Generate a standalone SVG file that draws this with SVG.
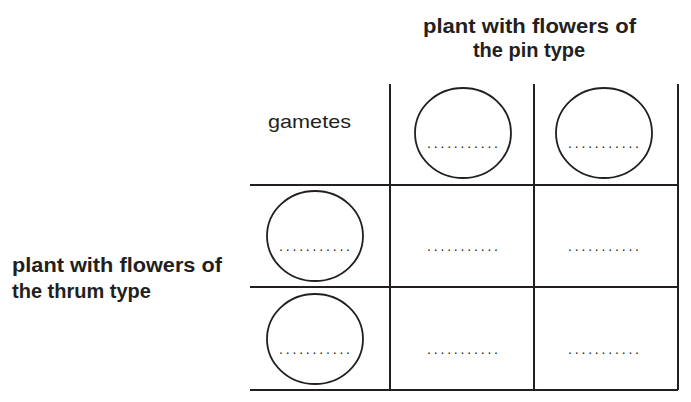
<svg xmlns="http://www.w3.org/2000/svg" width="691" height="402" viewBox="0 0 691 402">
<style>
.l{stroke:#231f20;stroke-width:2;fill:none}
.c{stroke:#231f20;stroke-width:1.8;fill:none}
.t{font-family:"Liberation Sans",Arial,sans-serif;fill:#231f20}
.b{font-weight:bold;font-size:20px}
.d{font-size:14px}
</style>
<rect width="691" height="402" fill="#fff"/>
<g id="grid">
<path class="l" d="M390 84V390M534 84V390M678 84V390M250 185H678M250 287H678M250 390H678"/>
</g>
<g id="titles">
<text class="t b" x="423" y="33" textLength="213" lengthAdjust="spacingAndGlyphs">plant with flowers of</text>
<text class="t b" x="529" y="57" text-anchor="middle">the pin type</text>
<text class="t b" x="12" y="272" textLength="210" lengthAdjust="spacingAndGlyphs">plant with flowers of</text>
<text class="t b" x="12" y="298">the thrum type</text>
<text class="t" x="268" y="128" font-size="19" textLength="83" lengthAdjust="spacingAndGlyphs">gametes</text>
</g>
<g id="g1"><ellipse class="c" cx="463" cy="133" rx="48" ry="45"/><text class="t d" x="427" y="148" textLength="71">...........</text></g>
<g id="g2"><ellipse class="c" cx="604" cy="133" rx="48" ry="45"/><text class="t d" x="568" y="148" textLength="71">...........</text></g>
<g id="g3"><ellipse class="c" cx="315" cy="236" rx="48" ry="45"/><text class="t d" x="279" y="251" textLength="71">...........</text></g>
<g id="g4"><ellipse class="c" cx="315" cy="339" rx="48" ry="45"/><text class="t d" x="279" y="354" textLength="71">...........</text></g>
<g id="cells">
<text class="t d" x="427" y="251" textLength="71">...........</text>
<text class="t d" x="568" y="251" textLength="71">...........</text>
<text class="t d" x="427" y="354" textLength="71">...........</text>
<text class="t d" x="568" y="354" textLength="71">...........</text>
</g>
</svg>
